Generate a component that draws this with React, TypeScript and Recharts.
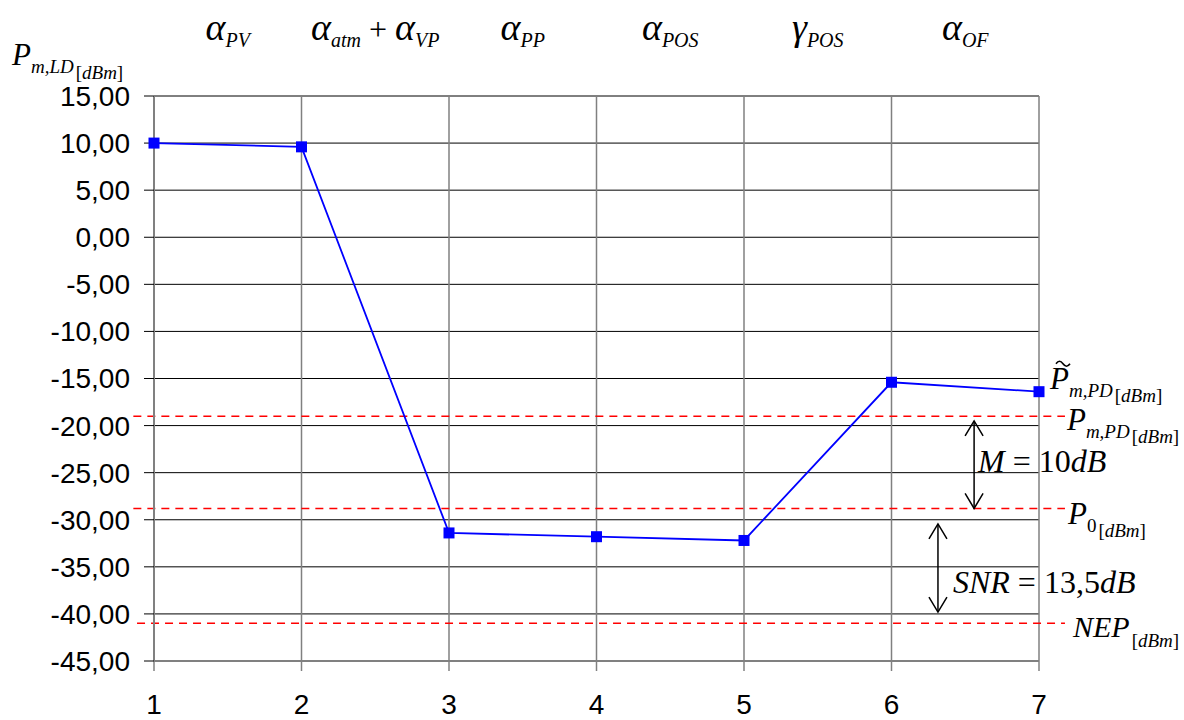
import React from "react";
import { LineChart, Line, XAxis, YAxis, CartesianGrid, ReferenceLine } from "recharts";

// stages of the optical link and measured power level after each one
const stages = [1, 2, 3, 4, 5, 6, 7];
const powerDbm = [10.0, 9.6, -31.4, -31.8, -32.2, -15.4, -16.4];
const yTicks = [15, 10, 5, 0, -5, -10, -15, -20, -25, -30, -35, -40, -45];

// loss names placed between the stages
const stageMids = [1.5, 2.5, 3.5, 4.5, 5.5, 6.5];
const stageLabels = [
  [["α", "PV"]],
  [["α", "atm"], [" + ", ""], ["α", "VP"]],
  [["α", "PP"]],
  [["α", "POS"]],
  [["γ", "POS"]],
  [["α", "OF"]],
];

// reference levels (red dashed): P_m,PD, P_0, NEP
const levelValues = [-19.0, -28.8, -41.0];
const levelStarts = [0.86, 0.86, 0.885];
const levelEnd = 7.176;

// margin / SNR arrows
const marginArrow = { x: 6.56, from: -19.5, to: -28.8 };
const snrArrow = { x: 6.315, from: -30.45, to: -39.8 };

const SERIF = "'Liberation Serif', 'Times New Roman', serif";
const SANS = "'Liberation Sans', Arial, sans-serif";

type Part = { text: string; size: number; shift?: number; italic?: boolean; dx?: number };

function MathText({ x, y, parts, anchor = "start" }: { x: number; y: number; parts: Part[]; anchor?: "start" | "middle" | "end" }) {
  let prev = 0;
  return (
    <text x={x} y={y} textAnchor={anchor} fontFamily={SERIF} fill="#000">
      {parts.map((p, i) => {
        const shift = p.shift ?? 0;
        const dy = shift - prev;
        prev = shift;
        return (
          <tspan key={i} dx={p.dx ?? 0} dy={dy} fontSize={p.size} fontStyle={p.italic === false ? "normal" : "italic"}>
            {p.text}
          </tspan>
        );
      })}
    </text>
  );
}

const dbmParts = (shift: number): Part[] => [
  { text: "[", size: 19, shift, italic: false, dx: 2 },
  { text: "dBm", size: 19, shift },
  { text: "]", size: 19, shift, italic: false },
];

const yLabelParts: Part[] = [
  { text: "P", size: 31 },
  { text: "m,LD", size: 19, shift: 8 },
  ...dbmParts(14),
];

const levelLabelParts: Part[][] = [
  [{ text: "P", size: 31 }, { text: "m,PD", size: 19, shift: 8 }, ...dbmParts(13)],
  [{ text: "P", size: 31 }, { text: "0", size: 19, shift: 8, italic: false }, ...dbmParts(13)],
  [{ text: "NEP", size: 30 }, ...dbmParts(10)],
];
const levelLabelOffsets = [
  { dx: 2, dy: 14 },
  { dx: 3, dy: 16 },
  { dx: 8, dy: 14 },
];

const lastPointParts: Part[] = [
  { text: "P", size: 31 },
  { text: "m,PD", size: 19, shift: 8 },
  ...dbmParts(13),
];

const marginParts: Part[] = [
  { text: "M", size: 32 },
  { text: " = 10", size: 32, italic: false },
  { text: "dB", size: 32 },
];
const snrParts: Part[] = [
  { text: "SNR", size: 32 },
  { text: " = 13,5", size: 32, italic: false },
  { text: "dB", size: 32 },
];

const data = stages.map((s, i) => ({ stage: s, p: powerDbm[i] }));

function StageTick(props: any) {
  const { x, y, payload } = props;
  const idx = stageMids.indexOf(payload.value);
  if (idx < 0) return null;
  const parts: Part[] = [];
  stageLabels[idx].forEach(([main, sub]) => {
    if (main.trim() === "+") parts.push({ text: main, size: 32, italic: false });
    else parts.push({ text: main, size: 38 });
    if (sub) parts.push({ text: sub, size: 20, shift: 7 });
  });
  return <MathText x={x} y={y - 56} anchor="middle" parts={parts} />;
}

function renderDot(props: any) {
  const { cx, cy, index } = props;
  const isLast = index === stages.length - 1;
  return (
    <g key={`dot-${index}`}>
      <rect x={cx - 5.5} y={cy - 5.5} width={11} height={11} fill="#0000FF" />
      {isLast && (
        <g>
          <path
            d={`M${cx + 17},${cy - 28} q3.5,-5 7,0 t7,0`}
            fill="none"
            stroke="#000"
            strokeWidth={1.6}
          />
          <MathText x={cx + 11} y={cy - 3} parts={lastPointParts} />
        </g>
      )}
    </g>
  );
}

const levelShape = (idx: number) => (props: any) => {
  const { x1, y1, x2, y2 } = props;
  const off = levelLabelOffsets[idx];
  return (
    <g>
      <line x1={x1} y1={y1} x2={x2} y2={y2} stroke="#FF0000" strokeWidth={1.5} strokeDasharray="8 6" />
      <MathText x={x2 + off.dx} y={y2 + off.dy} parts={levelLabelParts[idx]} />
    </g>
  );
};

const arrowShape = (parts: Part[], dx: number, dyLabel: number) => (props: any) => {
  const { x1, y1, y2 } = props;
  const top = Math.min(y1, y2);
  const bottom = Math.max(y1, y2);
  const x = x1;
  return (
    <g>
      <line x1={x} y1={top} x2={x} y2={bottom} stroke="#000" strokeWidth={1.5} />
      <path
        d={`M${x - 9},${top + 15} L${x},${top} L${x + 9},${top + 15} M${x - 9},${bottom - 15} L${x},${bottom} L${x + 9},${bottom - 15}`}
        fill="none"
        stroke="#000"
        strokeWidth={1.5}
      />
      <MathText x={x + dx} y={(top + bottom) / 2 + dyLabel} parts={parts} />
    </g>
  );
};

function YLabel(props: any) {
  const { viewBox } = props;
  return <MathText x={viewBox.x + 12} y={viewBox.y - 31} parts={yLabelParts} />;
}

export default function App() {
  return (
    <div style={{ position: "absolute", left: 0, top: 0, width: 1184, height: 720, background: "#fff" }}>
      <LineChart width={1184} height={720} data={data} margin={{ top: 0, right: 145, bottom: 0, left: 0 }}>
        <CartesianGrid horizontal={true} vertical={false} stroke="#000" strokeWidth={1} />
        <CartesianGrid horizontal={false} vertical={true} stroke="#808080" strokeWidth={1.5} />
        <XAxis
          dataKey="stage"
          type="number"
          domain={[1, 7]}
          ticks={stages}
          height={59}
          tickSize={10}
          tickMargin={23}
          axisLine={{ stroke: "#808080", strokeWidth: 2 }}
          tickLine={{ stroke: "#808080", strokeWidth: 1.5 }}
          tick={{ fill: "#000", fontSize: 28, fontFamily: SANS }}
        />
        <XAxis
          xAxisId="top"
          orientation="top"
          dataKey="stage"
          type="number"
          domain={[1, 7]}
          ticks={stageMids}
          height={96}
          tickSize={0}
          tickMargin={0}
          axisLine={false}
          tickLine={false}
          tick={<StageTick />}
        />
        <YAxis
          type="number"
          domain={[-45, 15]}
          ticks={yTicks}
          width={154}
          tickSize={10}
          tickMargin={14}
          interval={0}
          tickFormatter={(v: number) => v.toFixed(2).replace(".", ",")}
          axisLine={{ stroke: "#808080", strokeWidth: 2 }}
          tickLine={{ stroke: "#000" }}
          tick={{ fill: "#000", fontSize: 28, fontFamily: SANS }}
          label={{ content: <YLabel /> }}
        />
        {levelValues.map((v, i) => (
          <ReferenceLine
            key={`lvl-${i}`}
            segment={[
              { x: levelStarts[i], y: v },
              { x: levelEnd, y: v },
            ]}
            ifOverflow="visible"
            shape={levelShape(i)}
          />
        ))}
        <ReferenceLine
          segment={[
            { x: marginArrow.x, y: marginArrow.from },
            { x: marginArrow.x, y: marginArrow.to },
          ]}
          ifOverflow="visible"
          shape={arrowShape(marginParts, 4, 7)}
        />
        <ReferenceLine
          segment={[
            { x: snrArrow.x, y: snrArrow.from },
            { x: snrArrow.x, y: snrArrow.to },
          ]}
          ifOverflow="visible"
          shape={arrowShape(snrParts, 15, 25)}
        />
        <Line
          type="linear"
          dataKey="p"
          stroke="#0000FF"
          strokeWidth={1.8}
          dot={renderDot}
          activeDot={false}
          isAnimationActive={false}
        />
      </LineChart>
    </div>
  );
}
